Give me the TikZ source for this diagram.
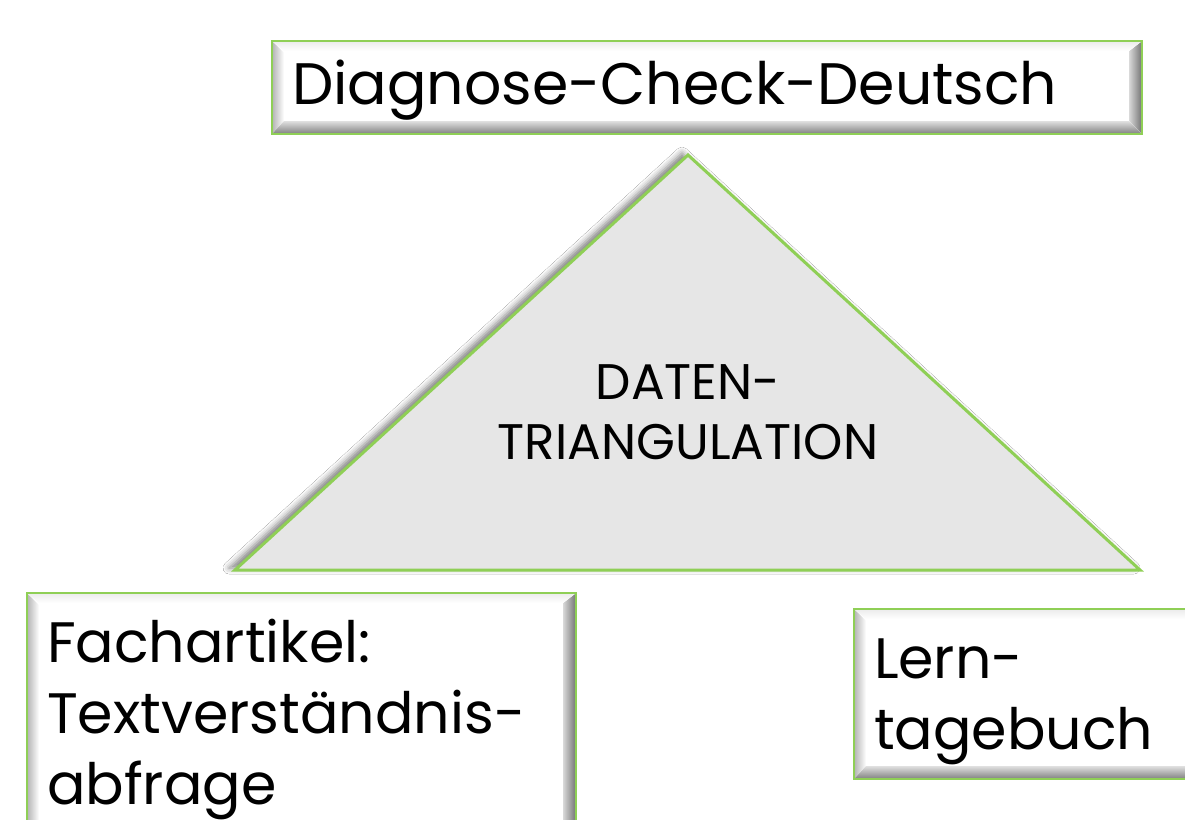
\documentclass[tikz,border=0pt]{standalone}
\usepackage{fontspec}
\setmainfont{Poppins}
\usetikzlibrary{shadows.blur,calc}
\definecolor{boxgreen}{HTML}{8FCF56}
\definecolor{trifill}{HTML}{E6E6E6}
\tikzset{
  bevelbox/.style={draw=boxgreen, line width=2pt, fill=white, inner ysep=0pt, inner xsep=20pt,
    path picture={
      \path (path picture bounding box.south west) coordinate (bsw)
            (path picture bounding box.north east) coordinate (bne);
      \fill[left color=black!30, right color=white]
        (bsw) -- (bsw|-bne) -- ++(12,12) -- ($(bsw)+(12,-13)$) -- cycle;
      \fill[top color=black!12, bottom color=black!50]
        (bsw) -- (bne|-bsw) -- ++(-13,-13) -- ($(bsw)+(12,-13)$) -- cycle;
      \fill[left color=black!15, right color=black!55]
        (bne) -- (bne|-bsw) -- ++(-13,-13) -- ($(bne)+(-13,10)$) -- cycle;
      \fill[top color=black!8, bottom color=white]
        (bne) -- (bsw|-bne) -- ++(12,10) -- ($(bne)+(-13,10)$) -- cycle;
    }},
  boxtext/.style={font=\fontsize{57}{71}\selectfont, align=left},
  toptext/.style={font=\fontsize{58.5}{71}\selectfont, align=left},
  tritext/.style={font=\fontsize{50}{60}\selectfont, align=center}
}
\newcommand{\lowerby}[2]{\raisebox{0pt}[\dimexpr\height+#1\relax][\depth]{#2}}
\begin{document}
\begin{tikzpicture}[x=1pt,y=-1pt]
\clip (0,0) rectangle (1185,819);
\fill[white] (0,0) rectangle (1185,819);
% triangle
\path[fill=trifill, draw=boxgreen, line width=3pt, line join=miter,
      blur shadow={shadow xshift=-6pt, shadow yshift=2pt, shadow blur radius=6pt, shadow opacity=50}]
  (688,155) coordinate (apex) -- (1140,570) coordinate (br) -- (235,570) coordinate (bl) -- cycle;
\node[tritext] (tri) at (688,412) {DATEN-\\TRIANGULATION};
% boxes
\node[bevelbox, minimum width=870, minimum height=93, anchor=north west,
      text width=830, toptext] (diag) at (271,40) {\lowerby{6pt}{Diagnose-Check-Deutsch}};
\node[bevelbox, minimum width=549, minimum height=252, anchor=north west,
      text width=509, boxtext] (fach) at (26,592) {Fachartikel:\\Textverständnis-\\abfrage};
\node[bevelbox, minimum width=345, minimum height=170, anchor=north west,
      text width=305, boxtext] (lern) at (853,608) {\lowerby{16pt}{Lern-}\\tagebuch};
\end{tikzpicture}
\end{document}
